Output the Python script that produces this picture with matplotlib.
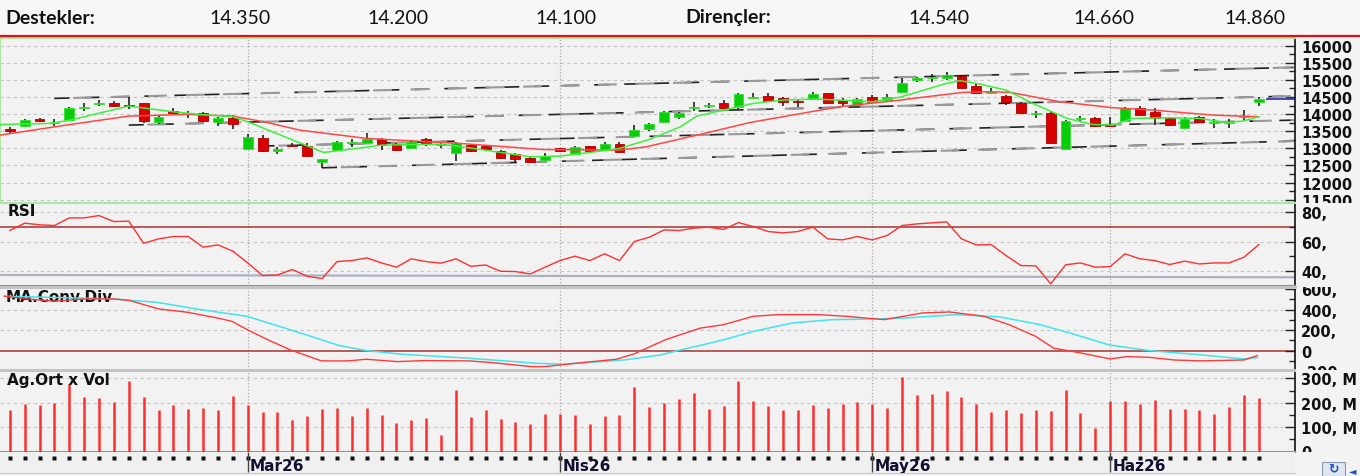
import matplotlib
matplotlib.use('Agg')
import matplotlib.pyplot as plt
import numpy as np
from matplotlib.transforms import Bbox, TransformedBbox, offset_copy
from matplotlib.patches import Rectangle
from matplotlib.lines import Line2D
from matplotlib.ticker import FixedLocator

# ---------------- data ----------------
supports = [14350, 14200, 14100]
resistances = [14540, 14660, 14860]

opens = [13580, 13650, 13855, 13740, 13815, 14180, 14284, 14313, 14264, 14333,
         13780, 14090, 13990, 14040, 13777, 13875, 12987, 13300, 12919, 13094,
         13065, 12607, 12948, 13180, 13163, 13270, 13124, 13017, 13260, 13095,
         12851, 13094, 13065, 12919, 12822, 12705, 12656, 12997, 12831, 13075,
         12978, 13114, 13358, 13553, 13777, 13923, 14187, 14240, 14333, 14216,
         14480, 14518, 14480, 14391, 14440, 14606, 14411, 14265, 14499, 14411,
         14655, 15000, 15045, 15045, 15120, 14830, 14625, 14528, 14333, 14000,
         14040, 12978, 13845, 13894, 13680, 13797, 14187, 14070, 13875, 13602,
         13923, 13750, 13730, 13904, 14362]
highs = [13630, 13850, 13875, 13855, 14206, 14313, 14410, 14380, 14508, 14333,
         13943, 14187, 14090, 14070, 13923, 13970, 13416, 13387, 13046, 13170,
         13143, 12695, 13212, 13260, 13436, 13290, 13143, 13231, 13290, 13143,
         13192, 13114, 13094, 12948, 12851, 12753, 12851, 13017, 13075, 13075,
         13173, 13173, 13680, 13728, 14090, 14070, 14362, 14313, 14411, 14606,
         14606, 14606, 14508, 14400, 14635, 14606, 14480, 14480, 14557, 14577,
         15045, 15094, 15160, 15220, 15140, 14870, 14753, 14557, 14362, 14090,
         14070, 13826, 13943, 13923, 13923, 14216, 14235, 14187, 13914, 13914,
         13953, 13855, 13855, 14118, 14499]
lows = [13410, 13610, 13760, 13660, 13797, 14090, 14235, 14215, 14150, 13730,
        13700, 14020, 13894, 13760, 13660, 13560, 12987, 12900, 12822, 13065,
        12753, 12430, 12919, 13046, 13143, 12950, 12919, 12997, 13065, 12997,
        12627, 12900, 12948, 12705, 12607, 12578, 12627, 12900, 12802, 12900,
        12948, 12860, 13338, 13514, 13757, 13845, 14090, 14167, 14148, 14148,
        14430, 14362, 14245, 14216, 14440, 14313, 14216, 14245, 14313, 14382,
        14626, 14928, 14947, 15000, 14750, 14577, 14577, 14265, 13992, 13884,
        13124, 12978, 13758, 13630, 13650, 13797, 13950, 13680, 13660, 13582,
        13728, 13602, 13582, 13797, 14245]
closes = [13510, 13826, 13800, 13770, 14167, 14190, 14333, 14235, 14235, 13800,
          13914, 14040, 14040, 13800, 13884, 13720, 13338, 12919, 12968, 13075,
          12773, 12695, 13173, 13190, 13280, 13094, 12948, 13192, 13114, 13110,
          13143, 12919, 12967, 12724, 12685, 12597, 12783, 12919, 13046, 12919,
          13124, 12900, 13523, 13699, 14050, 14031, 14216, 14250, 14187, 14577,
          14499, 14391, 14343, 14375, 14577, 14333, 14313, 14440, 14362, 14508,
          14918, 15045, 15075, 15140, 14770, 14606, 14650, 14362, 14021, 14010,
          13143, 13797, 13875, 13660, 13670, 14187, 13972, 13875, 13680, 13855,
          13758, 13770, 13760, 13943, 14440]

# moving averages read as line vertices (bar position, value)
ma_fast_x = [-0.66, 2.7, 4.05, 8.0, 11.0, 12.8, 15.0, 16.0, 21.1, 22.4, 25.0, 29.0,
             31.2, 35.0, 37.0, 39.0, 41.0, 43.0, 45.1, 46.2, 48.0, 50.0, 52.0, 54.0,
             55.8, 58.0, 59.9, 63.0, 63.9, 65.0, 67.0, 68.8, 71.1, 72.8, 74.2, 75.5,
             78.0, 80.0, 81.8, 82.9, 84.0]
ma_fast_y = [13699, 13728, 13826, 14235, 14070, 13992, 13923, 13777, 12880, 12948, 13094, 13124,
             12997, 12753, 12773, 12880, 12997, 13260, 13631, 13943, 14118, 14313, 14411, 14440,
             14411, 14362, 14500, 14900, 14977, 14900, 14703, 14313, 13875, 13699, 13680, 13875,
             13894, 13875, 13758, 13797, 13923]
ma_slow_x = [-0.66, 3.8, 8.0, 11.9, 15.0, 17.3, 19.5, 24.0, 30.3, 33.4, 35.8, 41.0, 42.8,
             46.4, 49.8, 55.8, 59.9, 60.75, 64.1, 65.9, 67.3, 70.6, 74.2, 76.9, 80.9, 84.0]
ma_slow_y = [13387, 13680, 13943, 13992, 13943, 13757, 13533, 13290, 13143, 13046, 12967, 12948, 13046,
             13406, 13757, 14216, 14411, 14460, 14635, 14655, 14635, 14362, 14187, 14118, 13972, 13923]

# trend channel lines: start bar, start value, value at right edge
trend_start_x = [3.0, 8.0, 16.8, 21.0]
trend_start_y = [14460, 13680, 13065, 12432]
trend_end_y = [15366, 14528, 13826, 13212]

rsi = [67.5, 72.5, 71.4, 70.9, 76.1, 76.1, 77.7, 73.6, 73.9, 58.8,
       61.8, 63.4, 63.4, 56.1, 57.7, 53.4, 45.4, 36.8, 37.2, 40.9,
       36.3, 34.7, 46.3, 47.0, 48.8, 45.4, 42.5, 48.2, 46.3, 45.2,
       48.2, 43.1, 44.0, 39.7, 39.5, 37.9, 42.5, 47.0, 50.0, 47.0,
       51.6, 47.0, 60.0, 62.9, 67.9, 67.5, 69.1, 69.8, 68.2, 72.9,
       70.2, 66.8, 65.9, 66.8, 69.8, 61.8, 61.1, 63.4, 61.1, 64.1,
       70.9, 72.0, 72.7, 73.4, 61.8, 57.7, 57.9, 50.4, 43.6, 43.4,
       31.1, 44.1, 45.4, 42.5, 42.9, 51.6, 48.2, 47.0, 44.3, 46.6,
       44.7, 45.4, 45.4, 49.3, 57.9]
rsi_base = [37.2, 35.6]

macd_x = [-0.36, 1.14, 3.0, 5.05, 7.0, 8.05, 10.0, 11.95, 13.96, 14.95, 15.98, 17.36, 18.86,
          20.96, 22.76, 23.96, 26.07, 27.87, 30.87, 32.37, 35.08, 35.98, 38.08, 40.78, 41.98,
          44.08, 45.07, 46.43, 48.0, 50.0, 51.7, 54.4, 56.2, 58.8, 61.4, 63.2, 65.5, 67.2,
          69.0, 70.2, 71.9, 74.0, 75.1, 76.6, 78.3, 80.1, 83.0, 83.9]
macd_y = [531, 505, 482, 505, 505, 489, 407, 374, 318, 285, 203, 105, 7,
          -101, -101, -85, -108, -98, -101, -117, -157, -157, -124, -85, -33,
          105, 154, 219, 253, 335, 351, 351, 335, 302, 368, 377, 335, 253,
          138, 23, -20, -82, -59, -66, -92, -101, -92, -49]
signal_x = [-0.36, 6.85, 9.85, 12.85, 15.98, 18.86, 22.16, 23.96, 26.37, 30.87, 35.38, 37.18,
            41.38, 43.78, 45.07, 46.43, 48.0, 50.0, 52.6, 55.3, 57.9, 60.2, 63.7, 66.6, 69.3,
            71.3, 73.9, 76.6, 80.1, 83.0, 83.9]
signal_y = [531, 505, 472, 400, 334, 203, 49, 0, -36, -75, -124, -134,
            -91, -42, 5, 50, 105, 187, 269, 302, 308, 318, 351, 328, 253,
            171, 56, 0, -42, -82, -69]

volume = [170, 195, 191, 198, 276, 224, 218, 202, 287, 224,
          171, 191, 176, 178, 171, 228, 191, 163, 163, 129,
          145, 173, 180, 145, 178, 150, 117, 129, 137, 67,
          254, 143, 169, 134, 122, 111, 152, 152, 150, 111,
          145, 150, 265, 184, 199, 216, 239, 174, 187, 289,
          207, 187, 169, 171, 189, 178, 195, 203, 195, 180,
          306, 230, 236, 248, 224, 195, 162, 171, 159, 169,
          166, 254, 156, 96, 207, 207, 195, 213, 176, 174,
          169, 154, 181, 230, 219]

month_start = [16, 37, 58, 74]
month_labels = ["Mar26", "Nis26", "May26", "Haz26"]

price_ticks = [16000, 15500, 15000, 14500, 14000, 13500, 13000, 12500, 12000, 11500]
rsi_ticks = [80, 60, 40]
macd_ticks = [600, 400, 200, 0, -200]
vol_ticks = [300, 200, 100, 0]

# ---------------- figure ----------------
W, H = 1360, 476
fig = plt.figure(figsize=(W / 100, H / 100), dpi=100, facecolor='#f3f3f3')

def px_axes(x0, y0, x1, y1):
    return fig.add_axes([x0 / W, 1 - y1 / H, (x1 - x0) / W, (y1 - y0) / H])

n = len(closes)
idx = np.arange(n)
XMIN, XMAX = -0.66, 86.43
PANEL_BG = '#f2f2f2'
TICK_FONT = dict(family='DejaVu Sans', weight='bold', size=10.5, color='#111111')
TITLE_FONT = dict(family='DejaVu Sans', weight='bold', size=11, color='#111111')

# header
fig.patches.append(Rectangle((0, 1 - 35 / H), 1, 35 / H, transform=fig.transFigure,
                             facecolor='#f7f7f7', edgecolor='none', zorder=0))
fig.lines.append(Line2D([0, 1], [1 - 35.5 / H] * 2, transform=fig.transFigure,
                        color='#e0101a', lw=1.6))
hdr = dict(family='Lato', size=14, va='center', color='#111111')
fig.text(5 / W, 1 - 18 / H, "Destekler:", ha='left', weight='bold', **hdr)
fig.text(685 / W, 1 - 18 / H, "Dirençler:", ha='left', weight='bold', **hdr)
fmt = lambda v: f"{v:,.0f}".replace(',', '.')
for xc, v in zip([240, 398, 566], supports):
    fig.text(xc / W, 1 - 18 / H, fmt(v), ha='center', **hdr)
for xc, v in zip([939, 1104, 1255], resistances):
    fig.text(xc / W, 1 - 18 / H, fmt(v), ha='center', **hdr)


def style_panel(ax, y0, y1, ticks, labels, minor, grid, top_col, bot_col, left_col=None):
    ax.set_facecolor(PANEL_BG)
    ax.set_xlim(XMIN, XMAX)
    ax.set_xticks([])
    ax.yaxis.tick_right()
    ax.yaxis.set_major_locator(FixedLocator(ticks))
    ax.yaxis.set_minor_locator(FixedLocator(minor))
    ax.tick_params(axis='y', which='major', direction='in', length=7, width=1,
                   color='#222222', labelright=False, right=True)
    ax.tick_params(axis='y', which='minor', direction='in', length=4, width=1,
                   color='#222222', right=True)
    for g in grid:
        ax.axhline(g, color='#c4c4c4', lw=0.8, ls=(0, (3, 3)), zorder=0.5)
    for m in month_start:
        ax.axvline(m, color='#a8a8a8', lw=0.9, ls=(0, (1, 1.6)), zorder=0.5)
    ax.spines['right'].set_color('#111111')
    ax.spines['right'].set_linewidth(1.2)
    ax.spines['top'].set_color(top_col)
    ax.spines['top'].set_linewidth(1.5)
    ax.spines['bottom'].set_color(bot_col)
    ax.spines['bottom'].set_linewidth(1.5)
    if left_col:
        ax.spines['left'].set_color(left_col)
        ax.spines['left'].set_linewidth(1.5)
    else:
        ax.spines['left'].set_visible(False)
    clip = TransformedBbox(Bbox.from_extents(1296 / W, 1 - y1 / H, 1, 1 - y0 / H), fig.transFigure)
    tr = offset_copy(ax.get_yaxis_transform(), fig=fig, x=6, y=-2.5, units='dots')
    for t, lab in zip(ticks, labels):
        txt = ax.text(1.0, t, lab, transform=tr, ha='left', va='center', clip_on=True, **TICK_FONT)
        txt.set_clip_box(clip)


def panel_title(ax, text, x_px, y_px, y0, y1, z):
    ax.text(x_px / 1295, 1 - (y_px - y0) / (y1 - y0), text, transform=ax.transAxes,
            ha='left', va='center', zorder=z, **TITLE_FONT)


# ---- main price panel ----
y0, y1 = 38, 202.5
ax = px_axes(0, y0, 1295, y1)
ax.set_ylim(11418, 16225)
style_panel(ax, y0, y1, price_ticks, [str(t) for t in price_ticks],
            [t + 250 for t in price_ticks[1:]] + [11250], price_ticks,
            '#a8e8a0', '#a8e8a0', '#a8e8a0')

# trend channels (alternating black / grey dashes)
for sx, sy, ey in zip(trend_start_x, trend_start_y, trend_end_y):
    ax.plot([sx, XMAX - 0.1], [sy, ey], color='#222222', lw=1.2, ls=(0, (9, 9)), zorder=2.5)
    ax.plot([sx, XMAX - 0.1], [sy, ey], color='#9a9a9a', lw=1.5, ls=(9, (9, 9)), zorder=2.5)

o = np.array(opens, float); h = np.array(highs, float)
l = np.array(lows, float); c = np.array(closes, float)
up = c >= o
ax.vlines(idx, l, h, color='#111111', lw=1.1, zorder=3)
body_lo = np.minimum(o, c)
body_h = np.abs(c - o)
small = body_h < 30
body_lo = np.where(small, (o + c) / 2 - 15, body_lo)
body_h = np.where(small, 30, body_h)
ax.bar(idx, body_h, bottom=body_lo, width=0.66,
       color=np.where(up, '#0acc0a', '#d80000'),
       edgecolor=np.where(up, '#30e030', '#b00000'), lw=0.6, zorder=4)

ax.plot(ma_slow_x, ma_slow_y, color='#ff4848', lw=1.1, zorder=5)
ax.plot(ma_fast_x, ma_fast_y, color='#3cf03c', lw=1.1, zorder=5)
ax.hlines(c[-1], idx[-1] + 0.45, XMAX, color='#1c1caa', lw=1.1, zorder=5)

# ---- RSI panel ----
y0, y1 = 202.5, 285.5
ax_r = px_axes(0, y0, 1295, y1)
ax_r.set_ylim(30, 86.6)
style_panel(ax_r, y0, y1, rsi_ticks, [f"{t}," for t in rsi_ticks], [70, 50],
            rsi_ticks, '#a8e8a0', '#5cb85c')
ax_r.axhline(70, color='#a83030', lw=1.1, zorder=1)
ax_r.plot([XMIN, XMAX], rsi_base, color='#aab2c4', lw=1.6, zorder=1)
ax_r.plot(idx, rsi, color='#ff3030', lw=1.0, zorder=3)
panel_title(ax_r, "RSI", 8, 212, y0, y1, 6)

# ---- MACD panel ----
y0, y1 = 287, 370
ax_m = px_axes(0, y0, 1295, y1)
ax_m.set_ylim(-190, 621)
style_panel(ax_m, y0, y1, macd_ticks, ["600,", "400,", "200,", "0", "-200,"],
            [500, 300, 100, -100], [400, 200], '#c4c4c4', '#c4c4c4')
ax_m.spines['top'].set_linewidth(2.2)
ax_m.axhline(0, color='#a83030', lw=1.1, zorder=1)
panel_title(ax_m, "MA.Conv.Div", 6, 297.5, y0, y1, 2)
ax_m.plot(signal_x, signal_y, color='#40e4ec', lw=1.1, zorder=3)
ax_m.plot(macd_x, macd_y, color='#ff3a3a', lw=1.0, zorder=3)

# ---- volume panel ----
y0, y1 = 371, 451.5
ax_v = px_axes(0, y0, 1295, y1)
ax_v.set_ylim(0, 330)
style_panel(ax_v, y0, y1, vol_ticks, ["300, M", "200, M", "100, M", "0"],
            [250, 150, 50], [100, 200, 300], '#c4c4c4', '#5cb85c')
ax_v.vlines(idx, 0, volume, color='#ff2e2e', lw=1.8, zorder=3)
panel_title(ax_v, "Ag.Ort x Vol", 7, 381, y0, y1, 6)

# ---- date strip ----
ax_b = px_axes(0, 451.5, 1295, 473)
ax_b.set_facecolor('#f0f0f0')
ax_b.set_xlim(XMIN, XMAX)
ax_b.set_ylim(0, 1)
ax_b.set_xticks([]); ax_b.set_yticks([])
for s in ['top', 'left', 'right']:
    ax_b.spines[s].set_visible(False)
ax_b.spines['bottom'].set_color('#c8c8c8')
ax_b.plot(idx, np.full(n, 0.70), 's', ms=2.4, color='#111111', mec='none')
ax_b.vlines(month_start, 0.05, 1.0, color='#444444', lw=1.0)
for m, lab in zip(month_start, month_labels):
    ax_b.text(m + 0.15, 0.28, lab, ha='left', va='center', family='DejaVu Sans',
              weight='bold', size=11, color='#101030', clip_on=True)

# bottom-right control
fig.patches.append(Rectangle((1322 / W, 0), 23 / W, 14 / H, transform=fig.transFigure,
                             facecolor='#dfe6f0', edgecolor='#8a98aa', lw=0.8))
fig.text(1333.5 / W, 7 / H, "↻", ha='center', va='center', color='#1e4fc0',
         family='DejaVu Sans', weight='bold', size=9)
fig.text(1353 / W, 5 / H, "◄", ha='center', va='center', color='#1e4fc0',
         family='DejaVu Sans', size=7)

fig.savefig('out.png', dpi=100, facecolor=fig.get_facecolor())
